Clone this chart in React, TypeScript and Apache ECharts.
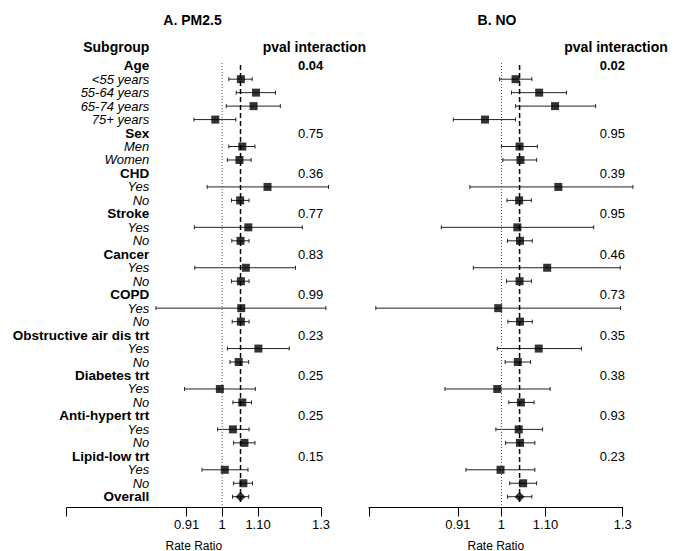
import React, { useEffect, useRef } from 'react';
import * as echarts from 'echarts';

const FONT = '"Liberation Sans", Arial, Helvetica, sans-serif';

const subgroupLabels = [
  'Age', '<55 years', '55-64 years', '65-74 years', '75+ years',
  'Sex', 'Men', 'Women',
  'CHD', 'Yes', 'No',
  'Stroke', 'Yes', 'No',
  'Cancer', 'Yes', 'No',
  'COPD', 'Yes', 'No',
  'Obstructive air dis trt', 'Yes', 'No',
  'Diabetes trt', 'Yes', 'No',
  'Anti-hypert trt', 'Yes', 'No',
  'Lipid-low trt', 'Yes', 'No',
  'Overall',
];
const boldRows = [0, 5, 8, 11, 14, 17, 20, 23, 26, 29, 32];
const pvalRows = [0, 5, 8, 11, 14, 17, 20, 23, 26, 29];
const pm25Pvals = ['0.04', '0.75', '0.36', '0.77', '0.83', '0.99', '0.23', '0.25', '0.25', '0.15'];
const noPvals = ['0.02', '0.95', '0.39', '0.95', '0.46', '0.73', '0.35', '0.38', '0.93', '0.23'];
const boldPvalRows = [0];

const pm25Est = [null, 1.051, 1.094, 1.087, 0.982, null, 1.055, 1.047, null, 1.128, 1.049, null, 1.072, 1.050, null, 1.065, 1.051, null, 1.052, 1.051, null, 1.101, 1.045, null, 0.994, 1.055, null, 1.029, 1.061, null, 1.007, 1.058, 1.050];
const pm25Lo = [null, 1.018, 1.038, 1.011, 0.928, null, 1.018, 1.014, null, 0.961, 1.025, null, 0.929, 1.026, null, 0.930, 1.025, null, 0.839, 1.027, null, 1.014, 1.021, null, 0.905, 1.029, null, 0.988, 1.031, null, 0.948, 1.031, 1.028];
const pm25Hi = [null, 1.083, 1.152, 1.167, 1.037, null, 1.091, 1.080, null, 1.326, 1.074, null, 1.237, 1.074, null, 1.215, 1.074, null, 1.317, 1.074, null, 1.195, 1.073, null, 1.092, 1.081, null, 1.074, 1.091, null, 1.071, 1.084, 1.073];

const noEst = [null, 1.031, 1.085, 1.123, 0.965, null, 1.040, 1.042, null, 1.131, 1.039, null, 1.035, 1.041, null, 1.104, 1.040, null, 0.993, 1.041, null, 1.084, 1.036, null, 0.991, 1.043, null, 1.038, 1.041, null, 0.998, 1.048, 1.040];
const noLo = [null, 0.996, 1.022, 1.031, 0.901, null, 1.000, 1.003, null, 0.934, 1.012, null, 0.878, 1.013, null, 0.941, 1.011, null, 0.762, 1.014, null, 0.991, 1.008, null, 0.885, 1.016, null, 0.988, 1.009, null, 0.926, 1.018, 1.013];
const noHi = [null, 1.068, 1.151, 1.226, 1.031, null, 1.081, 1.079, null, 1.329, 1.067, null, 1.221, 1.069, null, 1.293, 1.067, null, 1.294, 1.069, null, 1.189, 1.065, null, 1.111, 1.073, null, 1.093, 1.075, null, 1.075, 1.079, 1.068];

const xTickValues = [0.91, 1, 1.1, 1.3];
const xTickLabels = ['0.91', '1', '1.10', '1.3'];
const pm25XMin = 0.662;
const noXMin = 0.7508;
const xMax = 1.3;

const Y_MIN = -1.5;
const Y_MAX = 32.8;
const OVERALL = 32;

const ln = Math.log;

function buildPanel(idx: number, est: (number | null)[], lo: (number | null)[], hi: (number | null)[], pvals: string[], xMin: number, withLabels: boolean) {
  const xAxis: any = {
    type: 'value',
    gridIndex: idx,
    min: ln(xMin),
    max: ln(xMax),
    axisLine: { show: true, onZero: false, lineStyle: { color: '#000', width: 1 } },
    axisTick: { show: true, length: 9, lineStyle: { color: '#000', width: 1 }, customValues: [ln(xMin), ...xTickValues.map(ln)] },
    axisLabel: {
      show: true,
      showMinLabel: true, showMaxLabel: true,
      customValues: xTickValues.map(ln),
      formatter: (v: number) => {
        let best = 0;
        xTickValues.forEach((t, i) => { if (Math.abs(ln(t) - v) < Math.abs(ln(xTickValues[best]) - v)) best = i; });
        return xTickLabels[best];
      },
      color: '#000', fontSize: 13, fontFamily: FONT, margin: 10,
    },
    splitLine: { show: false },
    name: 'Rate Ratio', nameLocation: 'middle', nameGap: 32,
    nameTextStyle: { fontSize: 12, color: '#000', fontFamily: FONT },
  };

  const yAxes: any[] = [
    {
      type: 'value', gridIndex: idx, inverse: true, min: Y_MIN, max: Y_MAX, position: 'left',
      offset: withLabels ? -82.6 : 0,
      axisLine: { show: false, onZero: false }, axisTick: { show: false }, splitLine: { show: false },
      axisLabel: withLabels ? {
        show: true, margin: 0, showMinLabel: true, showMaxLabel: true, hideOverlap: false,
        customValues: subgroupLabels.map((_, i) => i),
        formatter: (v: number) => {
          const i = Math.round(v);
          const t = subgroupLabels[i] ?? '';
          return boldRows.includes(i) ? `{b|${t}}` : `{i|${t}}`;
        },
        rich: {
          b: { fontWeight: 'bold', fontSize: 13.5, lineHeight: 12, color: '#000', fontFamily: FONT },
          i: { fontStyle: 'italic', fontSize: 13, lineHeight: 12, color: '#000', fontFamily: FONT },
        },
      } : { show: false },
    },
    {
      type: 'value', gridIndex: idx, inverse: true, min: Y_MIN, max: Y_MAX, position: 'right',
      offset: -23,
      axisLine: { show: false, onZero: false }, axisTick: { show: false }, splitLine: { show: false },
      axisLabel: {
        show: true, margin: 0, showMinLabel: true, showMaxLabel: true, hideOverlap: false,
        customValues: pvalRows,
        formatter: (v: number) => {
          const i = Math.round(v);
          const k = pvalRows.indexOf(i);
          const t = k >= 0 ? pvals[k] : '';
          return boldPvalRows.includes(i) ? `{b|${t}}` : `{n|${t}}`;
        },
        rich: {
          b: { fontWeight: 'bold', fontSize: 13, lineHeight: 12, color: '#000', fontFamily: FONT },
          n: { fontSize: 13, lineHeight: 12, color: '#000', fontFamily: FONT },
        },
      },
    },
  ];

  const ciData: number[][] = [];
  const sqData: number[][] = [];
  est.forEach((e, i) => {
    if (e == null || lo[i] == null || hi[i] == null) return;
    ciData.push([ln(lo[i] as number), ln(hi[i] as number), i]);
    if (i !== OVERALL) sqData.push([ln(e), i]);
  });
  const overallX = ln(est[OVERALL] as number);

  const yIdx = idx * 2;
  const series: any[] = [
    {
      type: 'line', xAxisIndex: idx, yAxisIndex: yIdx, silent: true, symbol: 'none',
      data: [[0, -0.2], [0, Y_MAX]],
      lineStyle: { color: '#555', width: 1, type: [1, 2] },
    },
    {
      type: 'line', xAxisIndex: idx, yAxisIndex: yIdx, silent: true, symbol: 'none',
      data: [[overallX, -0.05], [overallX, 32.4]],
      lineStyle: { color: '#000', width: 1.5, type: [5, 3] },
    },
    {
      type: 'custom', xAxisIndex: idx, yAxisIndex: yIdx, silent: true, clip: false,
      data: ciData,
      encode: { x: [0, 1], y: 2 },
      renderItem: (params: any, api: any) => {
        const a = api.coord([api.value(0), api.value(2)]);
        const b = api.coord([api.value(1), api.value(2)]);
        const st = { stroke: '#222', lineWidth: 1 };
        return {
          type: 'group',
          children: [
            { type: 'line', shape: { x1: a[0], y1: a[1], x2: b[0], y2: b[1] }, style: st },
            { type: 'line', shape: { x1: a[0], y1: a[1] - 2, x2: a[0], y2: a[1] + 2 }, style: st },
            { type: 'line', shape: { x1: b[0], y1: b[1] - 2, x2: b[0], y2: b[1] + 2 }, style: st },
          ],
        };
      },
    },
    {
      type: 'scatter', xAxisIndex: idx, yAxisIndex: yIdx, silent: true,
      symbol: 'rect', symbolSize: 8, data: sqData,
      itemStyle: { color: '#000' },
    },
    {
      type: 'scatter', xAxisIndex: idx, yAxisIndex: yIdx, silent: true,
      symbol: 'diamond', symbolSize: [10, 10], data: [[overallX, OVERALL]],
      itemStyle: { color: '#000' },
    },
  ];
  return { xAxis, yAxes, series };
}

export default function App() {
  const ref = useRef<HTMLDivElement>(null);
  useEffect(() => {
    if (!ref.current) return;
    const chart = echarts.init(ref.current, undefined, { renderer: 'svg' });
    const p1 = buildPanel(0, pm25Est, pm25Lo, pm25Hi, pm25Pvals, pm25XMin, true);
    const p2 = buildPanel(1, noEst, noLo, noHi, noPvals, noXMin, false);
    const txt = (x: number, y: number, text: string, align: string, size: number) => ({
      type: 'text', x, y,
      style: { text, align, verticalAlign: 'middle', fontSize: size, fontWeight: 'bold', fontFamily: FONT, fill: '#000' },
    });
    chart.setOption({
      animation: false,
      backgroundColor: '#fff',
      textStyle: { fontFamily: FONT },
      grid: [
        { left: 66.7, top: 45.5, width: 254.3, height: 462, containLabel: false, outerBoundsMode: 'none' },
        { left: 369, top: 45.5, width: 253.7, height: 462, containLabel: false, outerBoundsMode: 'none' },
      ],
      xAxis: [p1.xAxis, p2.xAxis],
      yAxis: [...p1.yAxes, ...p2.yAxes],
      series: [...p1.series, ...p2.series],
      graphic: [
        txt(192.5, 20, 'A. PM2.5', 'center', 14),
        txt(497, 20, 'B. NO', 'center', 14),
        txt(149.3, 46.7, 'Subgroup', 'right', 14),
        txt(314.4, 46.7, 'pval interaction', 'center', 14),
        txt(616, 46.7, 'pval interaction', 'center', 14),
      ],
    });
    return () => chart.dispose();
  }, []);
  return <div ref={ref} style={{ position: 'fixed', left: 0, top: 0, width: 685, height: 551, background: '#fff' }} />;
}
